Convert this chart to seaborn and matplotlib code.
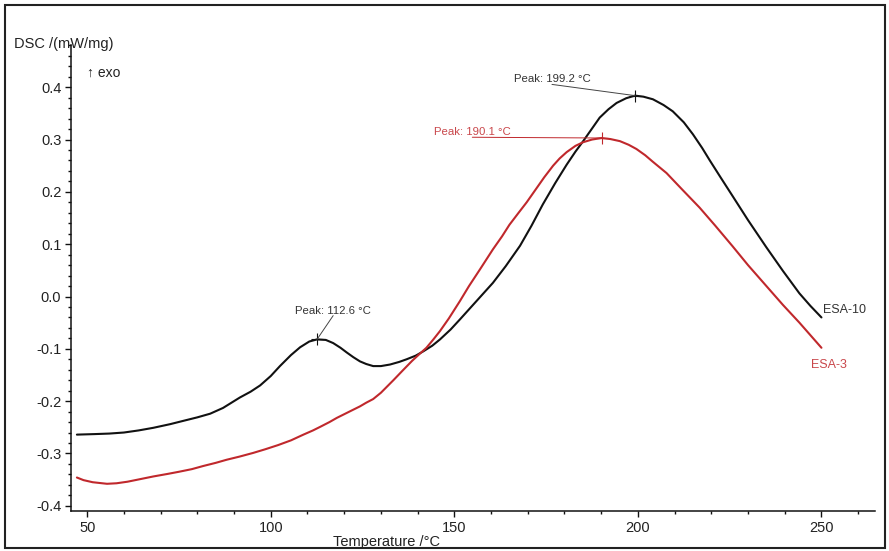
import numpy as np
import pandas as pd
import matplotlib
matplotlib.use("Agg")
import matplotlib.pyplot as plt
import seaborn as sns
from matplotlib.ticker import MultipleLocator, AutoMinorLocator

# DSC curves
temp_esa10 = [47.2, 52, 56, 60, 64, 68, 72.6, 76, 80, 83.5, 87, 91.6, 94.5, 97.1, 100,
              102.5, 105.5, 108, 110.5, 112.6, 115, 117, 119, 120.7, 122.5, 124.3, 126,
              127.9, 130, 132.5, 135, 137, 139.5, 141.5, 144, 146.1, 149, 151.5, 156,
              160.5, 164, 167.9, 171, 174.1, 177.5, 180.6, 183, 185.1, 187.5, 189.6, 192,
              194.2, 196.8, 199.2, 201.5, 204.1, 207, 209.5, 212.5, 215, 217.5, 219.6,
              222.5, 225.8, 230, 235, 239.5, 244, 247, 250]
dsc_esa10 = [-0.264, -0.263, -0.262, -0.260, -0.256, -0.251, -0.244, -0.238, -0.231, -0.224,
             -0.213, -0.193, -0.182, -0.170, -0.152, -0.133, -0.112, -0.097, -0.086, -0.082,
             -0.083, -0.089, -0.098, -0.107, -0.116, -0.124, -0.129, -0.133, -0.133, -0.130,
             -0.125, -0.120, -0.113, -0.105, -0.094, -0.082, -0.063, -0.044, -0.009, 0.026,
             0.058, 0.097, 0.135, 0.176, 0.217, 0.252, 0.277, 0.297, 0.321, 0.342, 0.358,
             0.370, 0.379, 0.384, 0.382, 0.377, 0.366, 0.354, 0.333, 0.310, 0.284, 0.260,
             0.228, 0.192, 0.146, 0.094, 0.049, 0.006, -0.018, -0.040]

temp_esa3 = [47.2, 49, 51.5, 55.4, 58, 61, 64.5, 68, 72, 75, 78.5, 81.6, 85, 88, 91.5, 95.2,
             98.5, 102, 105.5, 108.9, 111.5, 113.5, 116, 118, 120, 122, 124.3, 126, 127.9,
             130, 133.4, 136, 138.5, 140.5, 142.4, 144.3, 146.1, 148.5, 151.5, 154, 157,
             160.5, 163, 165, 167.5, 169.7, 172, 174.5, 176.9, 178.7, 180.6, 183, 185.1,
             187.5, 190.1, 192.5, 195.1, 197.5, 199.6, 202, 204, 207.8, 212, 216.8, 221,
             225.8, 230, 235, 239.5, 244, 247, 250]
dsc_esa3 = [-0.346, -0.351, -0.355, -0.358, -0.357, -0.354, -0.349, -0.344, -0.339, -0.335,
            -0.330, -0.324, -0.318, -0.312, -0.306, -0.299, -0.292, -0.284, -0.275, -0.264,
            -0.256, -0.249, -0.240, -0.232, -0.225, -0.218, -0.210, -0.203, -0.196, -0.184,
            -0.160, -0.141, -0.123, -0.110, -0.098, -0.082, -0.066, -0.042, -0.009, 0.020,
            0.052, 0.090, 0.115, 0.137, 0.160, 0.180, 0.203, 0.228, 0.250, 0.264, 0.276,
            0.288, 0.295, 0.300, 0.303, 0.301, 0.297, 0.290, 0.282, 0.270, 0.258, 0.236,
            0.205, 0.170, 0.136, 0.096, 0.060, 0.020, -0.016, -0.050, -0.074, -0.098]

peak_temps_esa10 = [112.6, 199.2]
peak_vals_esa10 = [-0.082, 0.384]
peak_temp_esa3 = [190.1]
peak_val_esa3 = [0.303]

BLACK = "#111111"
RED = "#c0282c"
RED_TXT = "#c9474b"
GREY_TXT = "#333333"

sns.set_theme(style="white")
plt.rcParams["font.family"] = ["Liberation Sans", "DejaVu Sans"]

fig = plt.figure(figsize=(8.89, 5.51), dpi=100)
ax = fig.add_axes([0.0799, 0.0726, 0.904, 0.845])

sns.lineplot(x=temp_esa10, y=dsc_esa10, ax=ax, color=BLACK, lw=1.5, sort=False, estimator=None)
sns.lineplot(x=temp_esa3, y=dsc_esa3, ax=ax, color=RED, lw=1.5, sort=False, estimator=None)

# peak markers
ax.plot(peak_temps_esa10, peak_vals_esa10, ls="none", marker="+", ms=8, mew=0.8, color=BLACK)
ax.plot(peak_temp_esa3, peak_val_esa3, ls="none", marker="+", ms=8, mew=0.8, color=RED)


def peak_label(x, y, text_xy, color, line_color):
    ax.annotate(f"Peak: {x:.1f} °C", xy=(x, y), xytext=text_xy, fontsize=8.2,
                color=color, ha="center", va="center",
                arrowprops=dict(arrowstyle="-", color=line_color, lw=0.7, shrinkA=0,
                                shrinkB=0, relpos=(0.5, 0.0), patchA=None))


peak_label(peak_temps_esa10[1], peak_vals_esa10[1], (176.6, 0.415), GREY_TXT, "#444444")
peak_label(peak_temp_esa3[0], peak_val_esa3[0], (154.9, 0.314), RED_TXT, RED)
peak_label(peak_temps_esa10[0], peak_vals_esa10[0], (117.0, -0.027), GREY_TXT, "#444444")

# curve names
ax.text(250.5, -0.025, "ESA-10", fontsize=9, color=GREY_TXT, ha="left", va="center")
ax.text(247.1, -0.130, "ESA-3", fontsize=9, color=RED_TXT, ha="left", va="center")

ax.set_xlim(45.6, 264.5)
ax.set_ylim(-0.41, 0.48)
ax.xaxis.set_major_locator(MultipleLocator(50))
ax.xaxis.set_minor_locator(MultipleLocator(10))
ax.set_yticks(np.round(np.arange(-0.4, 0.41, 0.1), 1))
ax.yaxis.set_minor_locator(AutoMinorLocator(5))
ax.yaxis.set_major_formatter(plt.FuncFormatter(lambda v, p: f"{round(v, 1) + 0.0:.1f}"))

for s in ["top", "right"]:
    ax.spines[s].set_visible(False)
for s in ["left", "bottom"]:
    ax.spines[s].set_color(BLACK)
    ax.spines[s].set_linewidth(1.1)

ax.tick_params(axis="both", which="major", direction="out", length=4, width=1,
               color=BLACK, labelsize=10.5, labelcolor="#222222", pad=3)
ax.tick_params(axis="both", which="minor", direction="out", length=2.5, width=1, color=BLACK)
ax.tick_params(axis="x", which="both", bottom=True)
ax.tick_params(axis="y", which="both", left=True)

ax.set_xlabel("")
ax.set_ylabel("")
fig.text(0.016, 0.92, "DSC /(mW/mg)", fontsize=10.5, color="#222222", ha="left", va="center")
fig.text(0.098, 0.868, "↑ exo", fontsize=10, color="#222222", ha="left", va="center")
fig.text(0.435, 0.017, "Temperature /°C", fontsize=10.5, color="#222222", ha="center", va="center")

# outer frame around the whole picture
frame = plt.Rectangle((0.006, 0.006), 0.989, 0.985, transform=fig.transFigure,
                      fill=False, edgecolor="#222222", lw=1.5)
fig.patches.append(frame)

fig.savefig("out.png", dpi=100)
